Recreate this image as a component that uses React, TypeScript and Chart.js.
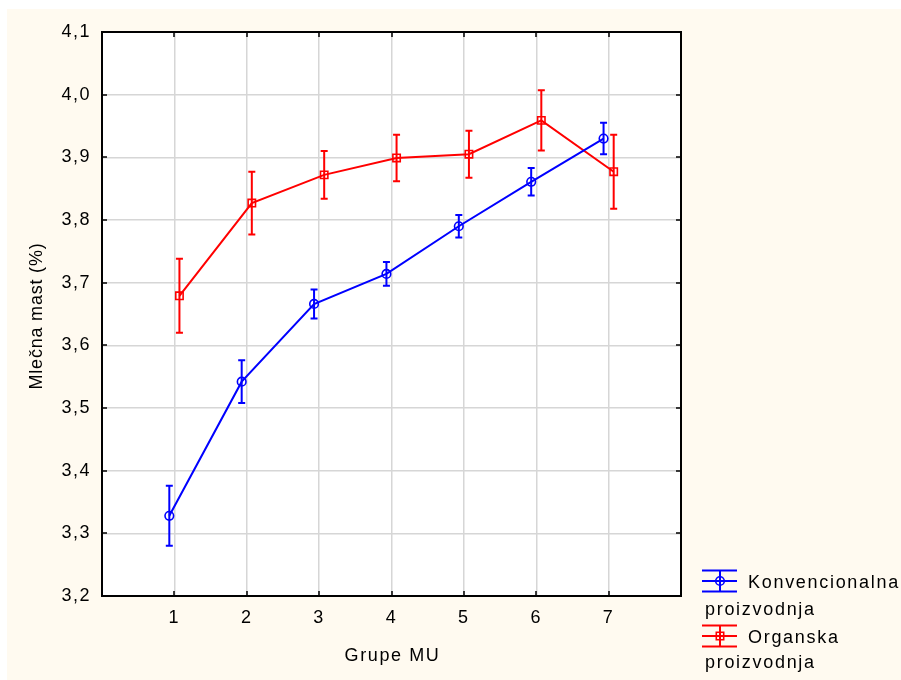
import React, { useEffect, useRef } from 'react';
import { Chart, registerables } from 'chart.js';

Chart.register(...registerables);

// ---- data ----
const categories = [1, 2, 3, 4, 5, 6, 7];
const konvMean = [3.328, 3.542, 3.666, 3.714, 3.79, 3.861, 3.93];
const konvErr = [0.048, 0.034, 0.023, 0.019, 0.018, 0.022, 0.025];
const orgMean = [3.679, 3.827, 3.872, 3.899, 3.905, 3.959, 3.877];
const orgErr = [0.059, 0.05, 0.038, 0.037, 0.0375, 0.048, 0.059];
const konvLabel = ['Konvencionalna', 'proizvodnja'];
const orgLabel = ['Organska', 'proizvodnja'];
const xTitle = 'Grupe MU';
const yTitle = 'Mlečna mast (%)';
const yMin = 3.2;
const yMax = 4.1;
const xMin = 0;
const xMax = 8;
const seriesShift = 0.07;

const BLUE = '#0000FF';
const RED = '#FF0000';
const FAMILY = '"Liberation Sans", Arial, sans-serif';
const FSIZE = 18;
const FONT = `${FSIZE}px ${FAMILY}`;

const errs = [konvErr, orgErr];
const means = [konvMean, orgMean];
const colors = [BLUE, RED];

function drawMarker(ctx: CanvasRenderingContext2D, style: string, x: number, y: number, color: string) {
  ctx.save();
  ctx.strokeStyle = color;
  ctx.lineWidth = 1.6;
  ctx.beginPath();
  if (style === 'circle') {
    ctx.arc(x, y, 4.3, 0, Math.PI * 2);
  } else {
    ctx.rect(x - 3.7, y - 3.7, 7.4, 7.4);
  }
  ctx.stroke();
  ctx.restore();
}

const customPlugin = {
  id: 'customDecor',
  beforeDraw(chart: any) {
    const { ctx, chartArea: a } = chart;
    (ctx as any).letterSpacing = '1.5px';
    ctx.save();
    ctx.fillStyle = '#FFFFFF';
    ctx.fillRect(a.left, a.top, a.right - a.left, a.bottom - a.top);
    ctx.restore();
  },
  beforeDatasetsDraw(chart: any) {
    const { ctx, chartArea: a, scales } = chart;
    ctx.save();
    ctx.strokeStyle = '#000';
    ctx.lineWidth = 1.5;
    ctx.beginPath();
    for (const c of categories) {
      const px = Math.round(scales.x.getPixelForValue(c));
      ctx.moveTo(px, a.bottom);
      ctx.lineTo(px, a.bottom - 5);
      ctx.moveTo(px, a.top);
      ctx.lineTo(px, a.top + 5);
    }
    for (const t of scales.y.ticks) {
      const py = Math.round(scales.y.getPixelForValue(t.value));
      ctx.moveTo(a.left, py);
      ctx.lineTo(a.left + 5, py);
      ctx.moveTo(a.right, py);
      ctx.lineTo(a.right - 5, py);
    }
    ctx.stroke();
    ctx.lineWidth = 2;
    ctx.strokeRect(a.left, a.top, a.right - a.left, a.bottom - a.top);
    ctx.restore();
  },
  afterDatasetsDraw(chart: any) {
    const { ctx, scales } = chart;
    ctx.save();
    ctx.lineWidth = 2;
    for (let i = 0; i < 2; i++) {
      const meta = chart.getDatasetMeta(i);
      ctx.strokeStyle = colors[i];
      ctx.beginPath();
      meta.data.forEach((pt: any, j: number) => {
        const x = pt.x;
        const yt = scales.y.getPixelForValue(means[i][j] + errs[i][j]);
        const yb = scales.y.getPixelForValue(means[i][j] - errs[i][j]);
        ctx.moveTo(x, yt);
        ctx.lineTo(x, yb);
        ctx.moveTo(x - 3.5, yt);
        ctx.lineTo(x + 3.5, yt);
        ctx.moveTo(x - 3.5, yb);
        ctx.lineTo(x + 3.5, yb);
      });
      ctx.stroke();
    }
    ctx.restore();
  },
  afterDraw(chart: any) {
    const { ctx, chartArea: a } = chart;
    ctx.save();
    ctx.fillStyle = '#000';
    ctx.font = FONT;
    // x title
    (ctx as any).letterSpacing = '1.6px';
    ctx.textAlign = 'center';
    ctx.textBaseline = 'alphabetic';
    ctx.fillText(xTitle, (a.left + a.right) / 2 + 1, 652);
    // y title
    ctx.save();
    (ctx as any).letterSpacing = '0.8px';
    ctx.translate(35, (a.top + a.bottom) / 2 + 2);
    ctx.rotate(-Math.PI / 2);
    ctx.fillText(yTitle, 0, 0);
    ctx.restore();

    // legend
    (ctx as any).letterSpacing = '1.7px';
    ctx.textAlign = 'left';
    const items = [
      { label: konvLabel, color: BLUE, style: 'circle', cy: 572, b1: 578.7, b2: 606 },
      { label: orgLabel, color: RED, style: 'rect', cy: 627, b1: 634.3, b2: 659 },
    ];
    for (const it of items) {
      const x0 = 695, x1 = 730, xm = 713, h = 10.5;
      ctx.strokeStyle = it.color;
      ctx.lineWidth = 2;
      ctx.beginPath();
      ctx.moveTo(x0, it.cy); ctx.lineTo(x1, it.cy);
      ctx.moveTo(x0, it.cy - h); ctx.lineTo(x1, it.cy - h);
      ctx.moveTo(x0, it.cy + h); ctx.lineTo(x1, it.cy + h);
      ctx.moveTo(xm, it.cy - h); ctx.lineTo(xm, it.cy + h);
      ctx.stroke();
      drawMarker(ctx, it.style, xm, it.cy, it.color);
      ctx.fillStyle = '#000';
      ctx.fillText(it.label[0], 741, it.b1);
      ctx.fillText(it.label[1], 698, it.b2);
    }
    ctx.restore();
  },
};

export default function App() {
  const ref = useRef<HTMLCanvasElement | null>(null);
  useEffect(() => {
    if (!ref.current) return;
    const chart = new Chart(ref.current, {
      type: 'line',
      data: {
        datasets: [
          {
            label: konvLabel.join(' '),
            data: categories.map((c, i) => ({ x: c - seriesShift, y: konvMean[i] })),
            borderColor: BLUE,
            backgroundColor: 'rgba(0,0,0,0)',
            borderWidth: 2,
            pointStyle: 'circle',
            pointRadius: 4.3,
            pointBorderWidth: 1.6,
            pointBorderColor: BLUE,
            pointBackgroundColor: 'rgba(0,0,0,0)',
            tension: 0,
          },
          {
            label: orgLabel.join(' '),
            data: categories.map((c, i) => ({ x: c + seriesShift, y: orgMean[i] })),
            borderColor: RED,
            backgroundColor: 'rgba(0,0,0,0)',
            borderWidth: 2,
            pointStyle: 'rect',
            pointRadius: 5.2,
            pointBorderWidth: 1.6,
            pointBorderColor: RED,
            pointBackgroundColor: 'rgba(0,0,0,0)',
            tension: 0,
          },
        ],
      },
      options: {
        animation: false,
        responsive: false,
        devicePixelRatio: 1,
        layout: { padding: { left: 0, top: 23, right: 220, bottom: 0 } },
        plugins: { legend: { display: false }, tooltip: { enabled: false } },
        scales: {
          x: {
            type: 'linear',
            min: xMin,
            max: xMax,
            afterFit: (s: any) => { s.height = 84; },
            ticks: {
              stepSize: 1,
              autoSkip: false,
              maxRotation: 0,
              color: '#000',
              font: { family: FAMILY, size: FSIZE },
              padding: 11,
              callback: (v: any) => (categories.includes(Number(v)) ? String(v) : ''),
            },
            grid: { color: '#d6d6d6', lineWidth: 1.5, drawTicks: false },
            border: { display: false },
          },
          y: {
            type: 'linear',
            min: yMin,
            max: yMax,
            afterFit: (s: any) => { s.width = 95; },
            ticks: {
              stepSize: 0.1,
              color: '#000',
              font: { family: FAMILY, size: FSIZE },
              padding: 11,
              callback: (v: any) => Number(v).toFixed(1).replace('.', ','),
            },
            grid: { color: '#d6d6d6', lineWidth: 1.5, drawTicks: false },
            border: { display: false },
          },
        },
      },
      plugins: [customPlugin],
    } as any);
    return () => chart.destroy();
  }, []);
  return (
    <div style={{ position: 'absolute', left: 7, top: 9, width: 894, height: 671, background: '#FFFAF0' }}>
      <canvas ref={ref} width={894} height={671} style={{ display: 'block' }} />
    </div>
  );
}
